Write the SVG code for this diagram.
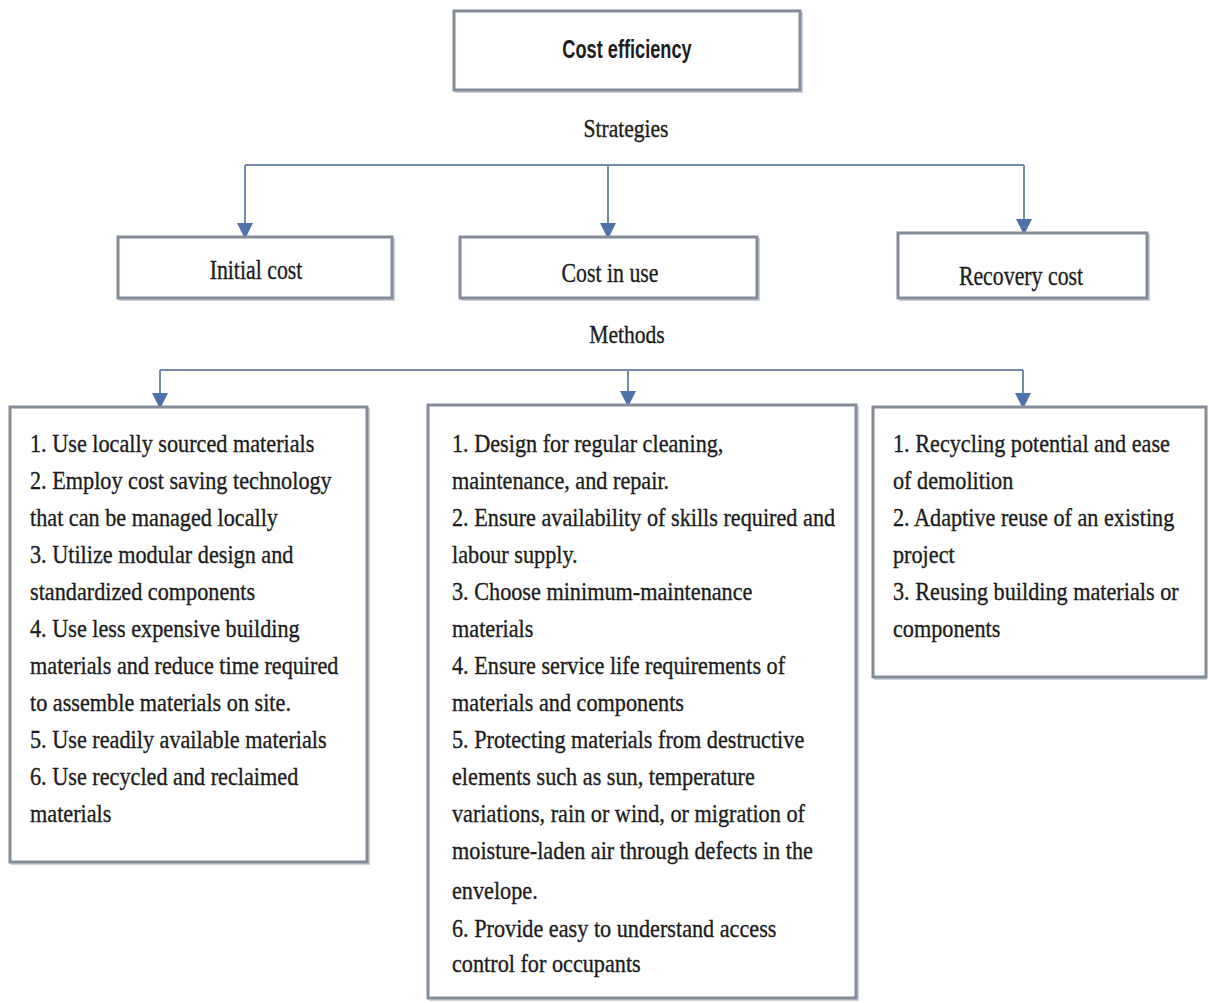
<svg xmlns="http://www.w3.org/2000/svg" width="1209" height="1003" viewBox="0 0 1209 1003">
<defs>
<marker id="arr" markerUnits="userSpaceOnUse" markerWidth="16" markerHeight="16" viewBox="0 0 16 16" refX="15" refY="8" orient="auto">
<path d="M0,0 L16,8 L0,16 Z" fill="#4f72aa"/>
</marker>
</defs>
<style>
.box{fill:#ffffff;stroke:#838c98;stroke-width:3}
.shadow{fill:none;stroke:#cdd2da;stroke-width:2}
.conn{fill:none;stroke:#7689a8;stroke-width:2}
.t{font-family:"Liberation Serif","Times New Roman",serif;font-size:26px;fill:#1c1c1c;stroke:#1c1c1c;stroke-width:0.35}
.h{font-family:"Liberation Serif","Times New Roman",serif;font-size:28px;fill:#1c1c1c;stroke:#1c1c1c;stroke-width:0.35}
.ti{font-family:"Liberation Sans",Arial,sans-serif;font-size:26px;font-weight:bold;fill:#1c1c1c}
</style>
<rect width="1209" height="1003" fill="#ffffff"/>

<g id="connectors">
<polyline class="conn" points="245,165 1024,165"/>
<line class="conn" x1="245" y1="165" x2="245" y2="238" marker-end="url(#arr)"/>
<line class="conn" x1="608" y1="165" x2="608" y2="238" marker-end="url(#arr)"/>
<line class="conn" x1="1024" y1="165" x2="1024" y2="234" marker-end="url(#arr)"/>
<polyline class="conn" points="160,370 1023,370"/>
<line class="conn" x1="160" y1="370" x2="160" y2="408" marker-end="url(#arr)"/>
<line class="conn" x1="628" y1="370" x2="628" y2="406" marker-end="url(#arr)"/>
<line class="conn" x1="1023" y1="370" x2="1023" y2="408" marker-end="url(#arr)"/>
</g>

<g id="cost-efficiency">
<rect class="shadow" x="456" y="13" width="346" height="79"/>
<rect class="box" x="454" y="11" width="346" height="79"/>
<text class="ti" transform="translate(627,58) scale(0.7,1)" text-anchor="middle">Cost efficiency</text>
</g>

<g id="label-strategies">
<text class="t" transform="translate(626,137) scale(0.83,1)" text-anchor="middle">Strategies</text>
</g>

<g id="initial-cost">
<rect class="shadow" x="120" y="239" width="274" height="61"/>
<rect class="box" x="118" y="237" width="274" height="61"/>
<text class="h" transform="translate(256,279) scale(0.78,1)" text-anchor="middle">Initial cost</text>
</g>

<g id="cost-in-use">
<rect class="shadow" x="462" y="239" width="297" height="61"/>
<rect class="box" x="460" y="237" width="297" height="61"/>
<text class="h" transform="translate(610,282) scale(0.78,1)" text-anchor="middle">Cost in use</text>
</g>

<g id="recovery-cost">
<rect class="shadow" x="900" y="235" width="249" height="65"/>
<rect class="box" x="898" y="233" width="249" height="65"/>
<text class="h" transform="translate(1021,285) scale(0.78,1)" text-anchor="middle">Recovery cost</text>
</g>

<g id="label-methods">
<text class="t" transform="translate(627,343) scale(0.83,1)" text-anchor="middle">Methods</text>
</g>

<g id="methods-initial">
<rect class="shadow" x="12" y="409" width="357" height="455"/>
<rect class="box" x="10" y="407" width="357" height="455"/>
<g transform="translate(30,0) scale(0.855,1)">
<text class="t" x="0" y="452">1. Use locally sourced materials</text>
<text class="t" x="0" y="489">2. Employ cost saving technology</text>
<text class="t" x="0" y="526">that can be managed locally</text>
<text class="t" x="0" y="563">3. Utilize modular design and</text>
<text class="t" x="0" y="600">standardized components</text>
<text class="t" x="0" y="637">4. Use less expensive building</text>
<text class="t" x="0" y="674">materials and reduce time required</text>
<text class="t" x="0" y="711">to assemble materials on site.</text>
<text class="t" x="0" y="748">5. Use readily available materials</text>
<text class="t" x="0" y="785">6. Use recycled and reclaimed</text>
<text class="t" x="0" y="822">materials</text>
</g>
</g>

<g id="methods-in-use">
<rect class="shadow" x="430" y="407" width="428" height="593"/>
<rect class="box" x="428" y="405" width="428" height="593"/>
<g transform="translate(452,0) scale(0.855,1)">
<text class="t" x="0" y="452">1. Design for regular cleaning,</text>
<text class="t" x="0" y="489">maintenance, and repair.</text>
<text class="t" x="0" y="526">2. Ensure availability of skills required and</text>
<text class="t" x="0" y="563">labour supply.</text>
<text class="t" x="0" y="600">3. Choose minimum-maintenance</text>
<text class="t" x="0" y="637">materials</text>
<text class="t" x="0" y="674">4. Ensure service life requirements of</text>
<text class="t" x="0" y="711">materials and components</text>
<text class="t" x="0" y="748">5. Protecting materials from destructive</text>
<text class="t" x="0" y="785">elements such as sun, temperature</text>
<text class="t" x="0" y="822">variations, rain or wind, or migration of</text>
<text class="t" x="0" y="859">moisture-laden air through defects in the</text>
<text class="t" x="0" y="899">envelope.</text>
<text class="t" x="0" y="937">6. Provide easy to understand access</text>
<text class="t" x="0" y="972">control for occupants</text>
</g>
</g>

<g id="methods-recovery">
<rect class="shadow" x="875" y="409" width="331" height="270"/>
<rect class="box" x="873" y="407" width="333" height="270"/>
<g transform="translate(893,0) scale(0.855,1)">
<text class="t" x="0" y="452">1. Recycling potential and ease</text>
<text class="t" x="0" y="489">of demolition</text>
<text class="t" x="0" y="526">2. Adaptive reuse of an existing</text>
<text class="t" x="0" y="563">project</text>
<text class="t" x="0" y="600">3. Reusing building materials or</text>
<text class="t" x="0" y="637">components</text>
</g>
</g>
</svg>
